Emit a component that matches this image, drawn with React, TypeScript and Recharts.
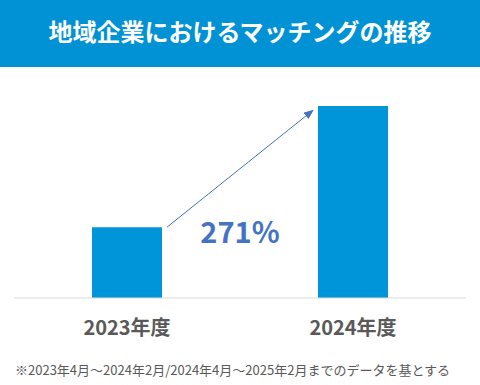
import { BarChart, Bar, XAxis, YAxis, ReferenceLine } from "recharts";

// Matching counts, fiscal 2023 taken as the base (100)
const years = ["2023年度", "2024年度"];
const matchIndex = [100, 271];
const arrowEndValue = 265;

const title = "地域企業におけるマッチングの推移";
const footnote = "※2023年4月～2024年2月/2024年4月～2025年2月までのデータを基とする";

const FONT = '"Noto Sans CJK JP", "Noto Sans", sans-serif';
const BAR_SIZE = 70;

const data = years.map((year, i) => ({ year, value: matchIndex[i] }));
const growth = `${Math.round((matchIndex[1] / matchIndex[0]) * 100)}%`;

function YearTick(props: any) {
  const { x, y, payload } = props;
  return (
    <text x={x} y={y + 37} textAnchor="middle" fontFamily={FONT} fontSize={20} fontWeight={700} fill="#595959">
      {payload.value}
    </text>
  );
}

// arrow between the tops of the two bars plus the growth label
function GrowthArrow(props: any) {
  const { x1, y1, x2, y2 } = props;
  const sx = x1 + BAR_SIZE / 2 + 5;
  const ex = x2 - BAR_SIZE / 2 - 5;
  return (
    <g>
      <defs>
        <marker id="arrowHead" markerWidth="10" markerHeight="8" refX="9" refY="4" orient="auto" markerUnits="userSpaceOnUse">
          <path d="M0,0 L10,4 L0,8 z" fill="#4472C4" />
        </marker>
      </defs>
      <line x1={sx} y1={y1} x2={ex} y2={y2} stroke="#4472C4" strokeWidth={1} markerEnd="url(#arrowHead)" />
      <text x={(x1 + x2) / 2} y={y1 + 16} textAnchor="middle" fontFamily={FONT} fontSize={29} fontWeight={700} fill="#4472C4">
        {growth}
      </text>
    </g>
  );
}

export default function App() {
  return (
    <div style={{ position: "relative", width: 480, height: 385, background: "#fff", fontFamily: FONT }}>
      <style>{"body{margin:0}"}</style>
      <div
        style={{
          height: 67,
          background: "#0092D5",
          color: "#fff",
          fontSize: 24,
          fontWeight: 700,
          lineHeight: "62px",
          textAlign: "center",
        }}
      >
        {title}
      </div>
      <BarChart width={480} height={318} data={data} margin={{ top: 39, right: 14, left: 14, bottom: 47 }}>
        <XAxis
          dataKey="year"
          axisLine={{ stroke: "#d9d9d9", strokeWidth: 1 }}
          tickLine={false}
          tickSize={0}
          tickMargin={0}
          height={40}
          tick={<YearTick />}
        />
        <YAxis hide domain={[0, Math.max(...matchIndex)]} />
        <Bar dataKey="value" fill="#0095D9" barSize={BAR_SIZE} isAnimationActive={false} />
        <ReferenceLine
          segment={[
            { x: years[0], y: matchIndex[0] },
            { x: years[1], y: arrowEndValue },
          ]}
          ifOverflow="visible"
          shape={<GrowthArrow />}
        />
      </BarChart>
      <div
        style={{
          position: "absolute",
          left: 15,
          top: 361,
          fontSize: 13,
          lineHeight: "18px",
          color: "#595959",
          whiteSpace: "nowrap",
        }}
      >
        {footnote}
      </div>
    </div>
  );
}
